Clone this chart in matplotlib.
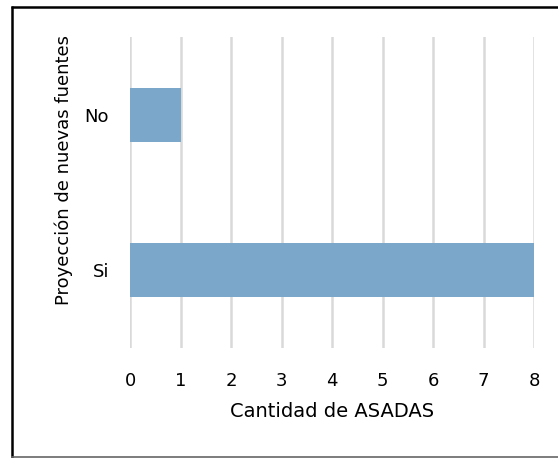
import matplotlib
matplotlib.use("Agg")
import matplotlib.pyplot as plt
from matplotlib.lines import Line2D

categories = ["Si", "No"]
values = [8, 1]
xticks = [0, 1, 2, 3, 4, 5, 6, 7, 8]

plt.rcParams['font.family'] = ['DejaVu Sans']

W, H = 558, 458
fig = plt.figure(figsize=(W/100, H/100), dpi=100)
fig.patch.set_facecolor('white')

# outer frame: black left and top, grey bottom
fig.lines.append(Line2D([11.5/W, 11.5/W], [1 - 6/H, 1 - 458/H], transform=fig.transFigure,
                        color='black', linewidth=1.8, solid_capstyle='butt'))
fig.lines.append(Line2D([10.5/W, 1.0], [1 - 7/H, 1 - 7/H], transform=fig.transFigure,
                        color='black', linewidth=1.8, solid_capstyle='butt'))
fig.lines.append(Line2D([10.5/W, 1.0], [1 - 457/H, 1 - 457/H], transform=fig.transFigure,
                        color='#666666', linewidth=1.2, solid_capstyle='butt'))

ax = fig.add_axes([130/W, (H-348)/H, (534-130)/W, (348-37)/H])
ax.barh(range(len(categories)), values, height=0.35, color='#7ba7cb', zorder=3)
ax.set_yticks(range(len(categories)))
ax.set_yticklabels(categories, fontsize=13)
ax.set_ylim(-0.5, 1.5)
ax.set_xlim(0, 8)
ax.set_xticks(xticks)
ax.set_xticklabels([str(t) for t in xticks], fontsize=13)
ax.grid(axis='x', color='#d9d9d9', linewidth=1.8, zorder=0)
ax.grid(axis='y', visible=False)
for s in ax.spines.values():
    s.set_visible(False)
ax.tick_params(axis='both', length=0)
ax.tick_params(axis='x', pad=17)
ax.tick_params(axis='y', pad=15)
ax.set_xlabel("Cantidad de ASADAS", fontsize=14, labelpad=9)
ax.set_ylabel("Proyección de nuevas fuentes", fontsize=13)
ax.yaxis.set_label_coords(-0.141, 0.572)

fig.savefig("out.png", dpi=100)
